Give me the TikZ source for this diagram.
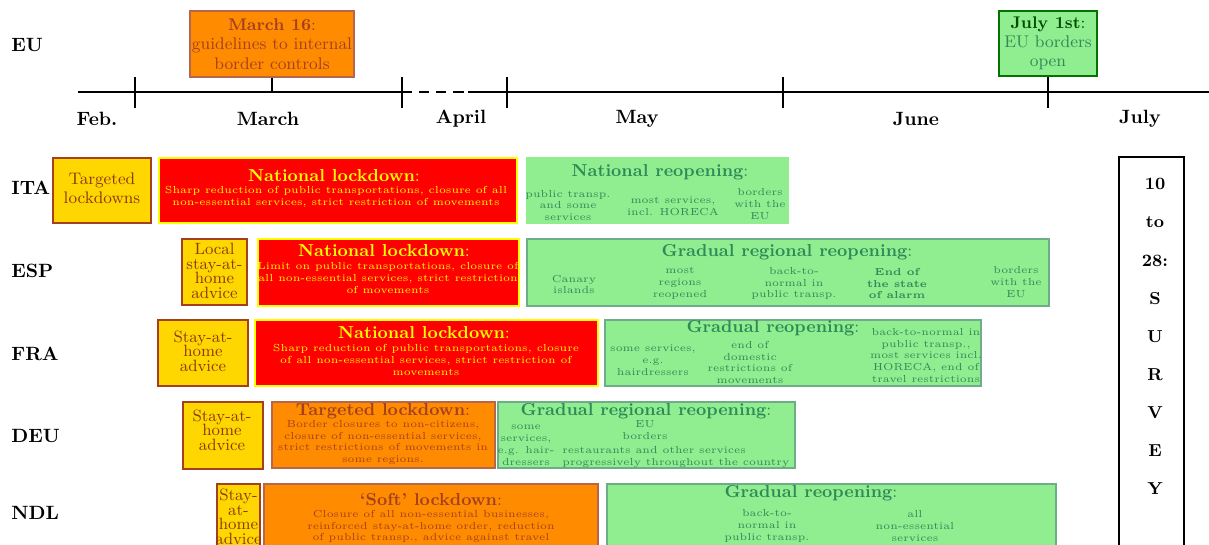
\documentclass[tikz,border=0pt]{standalone}
\definecolor{groc}{HTML}{FFD700}
\definecolor{taronja}{HTML}{FF8C00}
\definecolor{vermell}{HTML}{FF0000}
\definecolor{llimona}{HTML}{FFFF00}
\definecolor{verd}{HTML}{90EE90}
\definecolor{verdfosc}{HTML}{2E8B57}
\definecolor{terra}{HTML}{A5401F}
\definecolor{fang}{HTML}{8B3A0F}
\tikzset{
  eix/.style={line width=.9pt},
  pais/.style={font=\bfseries, anchor=west, inner sep=0pt},
  mes/.style={font=\bfseries, inner sep=0pt},
  fita/.style={line width=.6pt, align=center, inner sep=1pt, font={\fontsize{8.8}{10}\selectfont}},
  consell/.style={draw=terra, fill=groc, line width=.6pt},
  parcial/.style={draw=terra!80, fill=taronja, line width=.6pt},
  confinament/.style={draw=llimona, fill=vermell, line width=.6pt},
  reobertura/.style={draw=verdfosc!70, fill=verd, line width=.6pt},
  avis/.style={text=fang, align=center, inner sep=0pt, font={\fontsize{8.5}{7.6}\selectfont\lineskiplimit=-10pt}},
  titol/.style={font=\small, inner sep=0pt},
  detall/.style={align=center, inner sep=0pt, font={\fontsize{5.3}{6.2}\selectfont\lineskiplimit=-10pt}},
  enquesta/.style={draw=black, fill=white, line width=.6pt},
}
\begin{document}
\begin{tikzpicture}[x=.52pt,y=-.52pt]
  \useasboundingbox (0,0) rectangle (1209,545);
  \clip (0,0) rectangle (1209,545);

  \coordinate (eixa) at (0,92);
  \draw[eix] (78,92) -- (402,92);
  \draw[eix, dash pattern=on 5.3pt off 3.6pt] (402,92) -- (468,92);
  \draw[eix] (468,92) -- (1209,92);
  \foreach \x in {135,402,507,783,1048}
    \draw[eix] (\x,77) -- (\x,108);

  \node[mes] (feb) at (97,119) {Feb.};
  \node[mes] (mar) at (268,119) {March};
  \node[mes] (abr) at (461,119) {April};
  \node[mes] (mai) at (637,119) {May};
  \node[mes] (jun) at (916,119) {June};
  \node[mes] (jul) at (1140,119) {July};

  \node[pais] (eu) at (11,45) {EU};
  \node[fita, fill=taronja, draw=terra!80, text=terra, minimum width=84.2pt, minimum height=34.3pt]
    (mar16) at (272,44) {\textbf{March 16}:\\guidelines to internal\\border controls};
  \draw[eix] (mar16.south) -- (mar16.south |- eixa);
  \node[fita, fill=verd, draw=green!45!black, text=verdfosc, minimum width=51pt, minimum height=33.8pt]
    (jul1) at (1048,43.5) {{\color{green!30!black}\textbf{July 1st}:}\\EU borders\\open};
  \draw[eix] (jul1.south) -- (jul1.south |- eixa);

  \begin{scope}[shift={(0,158)}]
    \node[pais] (ita) at (11,30) {ITA};
    \draw[consell] (53,0) rectangle (151,65);
    \node[avis, font={\fontsize{8.7}{10}\selectfont}] (itaavis) at (102,30.5) {Targeted\\lockdowns};
    \draw[confinament] (159,0) rectangle (517,65);
    \node[titol, text=llimona] (itatitol) at (334,18) {\textbf{National lockdown}:};
    \node[detall, text=llimona] (itacos) at (336,39)
      {Sharp reduction of public transportations, closure of all\\non-essential services, strict restriction of movements};
    \draw[reobertura, draw=verd] (527,0) rectangle (788,65);
    \node[titol, text=verdfosc] (itaverd) at (660,14) {\textbf{National reopening}:};
    \node[detall, text=verdfosc] (itav1) at (568,47.5) {public transp.\\and some\\services};
    \node[detall, text=verdfosc] (itav2) at (673,48) {most services,\\incl. HORECA};
    \node[detall, text=verdfosc] (itav3) at (760,46.5) {borders\\with the\\EU};
  \end{scope}

  \begin{scope}[shift={(0,239)}]
    \node[pais] (esp) at (11,32) {ESP};
    \draw[consell] (182,0) rectangle (247,66);
    \node[avis] (espavis) at (214.5,32) {Local\\stay-at-\\home\\advice};
    \draw[confinament] (258,0) rectangle (519,67);
    \node[titol, text=llimona] (esptitol) at (384,12) {\textbf{National lockdown}:};
    \node[detall, text=llimona] (espcos) at (388,39)
      {Limit on public transportations, closure of\\all non-essential services, strict restriction\\of movements};
    \draw[reobertura] (527,0) rectangle (1049,67);
    \node[titol, text=verdfosc] (espverd) at (787,13) {\textbf{Gradual regional reopening}:};
    \node[detall, text=verdfosc] (espv1) at (574,45.5) {Canary\\islands};
    \node[detall, text=verdfosc] (espv2) at (680,44.5) {most\\regions\\reopened};
    \node[detall, text=verdfosc] (espv3) at (794,44.5) {back-to-\\normal in\\public transp.};
    \node[detall, text=verdfosc, font={\fontsize{5.3}{6.2}\selectfont\bfseries}] (espv4) at (897,44.5) {End of\\the state\\of alarm};
    \node[detall, text=verdfosc] (espv5) at (1016,43) {borders\\with the\\EU};
  \end{scope}

  \begin{scope}[shift={(0,320)}]
    \node[pais] (fra) at (11,34) {FRA};
    \draw[consell] (158,0) rectangle (248,66);
    \node[avis] (fraavis) at (203,31) {Stay-at-\\home\\advice};
    \draw[confinament] (255,0) rectangle (598,66);
    \node[titol, text=llimona] (fratitol) at (424,13) {\textbf{National lockdown}:};
    \node[detall, text=llimona] (fracos) at (426,40)
      {Sharp reduction of public transportations, closure\\of all non-essential services, strict restriction of\\movements};
    \draw[reobertura] (605,0) rectangle (981,66);
    \node[titol, text=verdfosc] (fraverd) at (773,8) {\textbf{Gradual reopening}:};
    \node[detall, text=verdfosc] (frav1) at (653,40) {some services,\\e.g.\\hairdressers};
    \node[detall, text=verdfosc] (frav2) at (750,42.5) {end of\\domestic\\restrictions of\\movements};
    \node[detall, text=verdfosc] (frav3) at (926,35.5)
      {back-to-normal in\\public transp.,\\most services incl.\\HORECA, end of\\travel restrictions};
  \end{scope}

  \begin{scope}[shift={(0,402)}]
    \node[pais] (deu) at (11,34) {DEU};
    \draw[consell] (183,0) rectangle (263,67);
    \node[avis] (deuavis) at (222,28) {Stay-at-\\home\\advice};
    \draw[parcial] (272,0) rectangle (495,66);
    \node[titol, text=terra] (deutitol) at (383,9) {\textbf{Targeted lockdown}:};
    \node[detall, text=terra] (deucos) at (383,40.5)
      {Border closures to non-citizens,\\closure of non-essential services,\\strict restrictions of movements in\\some regions.};
    \draw[reobertura] (498,0) rectangle (795,66);
    \node[titol, text=verdfosc] (deuverd) at (646,9) {\textbf{Gradual regional reopening}:};
    \node[detall, text=verdfosc] (deuv1) at (526,43) {some\\services,\\e.g. hair-\\dressers};
    \node[detall, text=verdfosc] (deuv2) at (645,28.5) {EU\\borders};
    \node[detall, text=verdfosc, align=left, anchor=west] (deuv3) at (562,55)
      {restaurants and other services\\progressively throughout the country};
  \end{scope}

  \begin{scope}[shift={(0,484)}]
    \node[pais] (ndl) at (11,29) {NDL};
    \draw[consell] (217,0) rectangle (260,80);
    \node[avis] (ndlavis) at (238.5,33) {Stay-\\at-\\home\\advice};
    \draw[parcial] (264,0) rectangle (598,80);
    \node[titol, text=terra] (ndltitol) at (431,16) {\textbf{`Soft' lockdown}:};
    \node[detall, text=terra] (ndlcos) at (431,42.5)
      {Closure of all non-essential businesses,\\reinforced stay-at-home order, reduction\\of public transp., advice against travel};
    \draw[reobertura] (607,0) rectangle (1056,80);
    \node[titol, text=verdfosc] (ndlverd) at (811,9) {\textbf{Gradual reopening}:};
    \node[detall, text=verdfosc] (ndlv1) at (767,42) {back-to-\\normal in\\public transp.};
    \node[detall, text=verdfosc] (ndlv2) at (915,42) {all\\non-essential\\services};
  \end{scope}

  \draw[enquesta] (1119,157) rectangle (1184,600);
  \node[align=center, font={\fontsize{9}{19.8}\selectfont\bfseries}] (enq) at (1155,336.5)
    {10\\to\\28:\\S\\U\\R\\V\\E\\Y};
\end{tikzpicture}
\end{document}
